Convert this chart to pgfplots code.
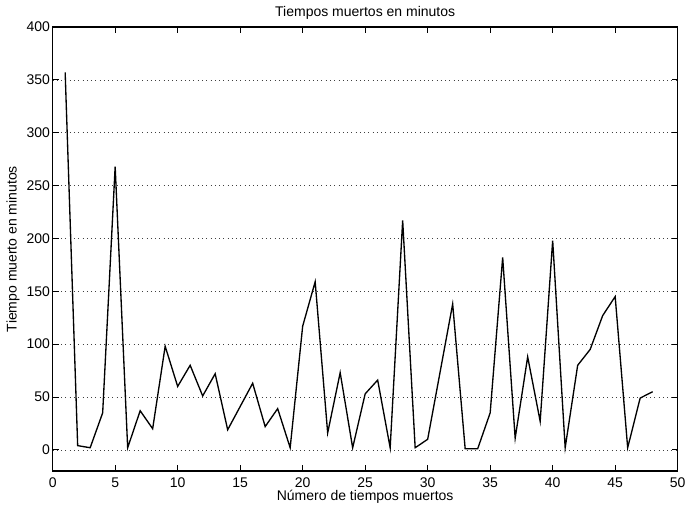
\documentclass[border=0pt]{standalone}
\usepackage{fontspec}
\setmainfont{Liberation Sans}
\usepackage{pgfplots}
\pgfplotsset{compat=1.18}

\begin{document}
\begin{tikzpicture}
% frame of the picture, 1px = 0.75pt
\useasboundingbox (-39.5pt,-27pt) rectangle (476.5pt,353.25pt);
\begin{axis}[
  at={(0,0)}, anchor=south west,
  scale only axis,
  width=468.75pt,
  height=333pt,
  xmin=0, xmax=50,
  ymin=-20, ymax=400,
  xtick={0,5,...,50},
  ytick={0,50,...,400},
  ymajorgrids,
  grid style={black!75,dash pattern=on 0.6pt off 2.6pt,line width=0.5pt},
  tick align=inside,
  tick pos=both,
  major tick length=4.5pt,
  axis line style={black,line width=0.9pt},
  tick style={black,line width=0.7pt},
  font=\fontsize{10.5}{12}\selectfont,
  /pgf/number format/assume math mode=true,
  xticklabel style={yshift=-1.5pt},
  yticklabel style={xshift=1.5pt},
  every axis title shift=0pt,
  title={Tiempos muertos en minutos},
  title style={at={(axis description cs:0.5,1.031)},anchor=center},
  xlabel={Número de tiempos muertos},
  xlabel style={at={(axis description cs:0.5,-0.057)},anchor=center},
  ylabel={Tiempo muerto en minutos},
  ylabel style={at={(axis description cs:-0.0636,0.5)},anchor=center},
]
\addplot[black,line width=1pt] coordinates {
  (1,357) (2,4) (3,2) (4,35) (5,268) (6,2) (7,37) (8,20)
  (9,98) (10,60) (11,80) (12,51) (13,72) (14,19) (15,41) (16,63)
  (17,22) (18,39) (19,2) (20,117) (21,159) (22,16) (23,73) (24,2)
  (25,53) (26,66) (27,2) (28,217) (29,2) (30,10) (31,74) (32,138)
  (33,1) (34,1) (35,35) (36,182) (37,11) (38,88) (39,27) (40,198)
  (41,2) (42,80) (43,95) (44,127) (45,145) (46,2) (47,49) (48,55)
};
\end{axis}
\end{tikzpicture}
\end{document}
